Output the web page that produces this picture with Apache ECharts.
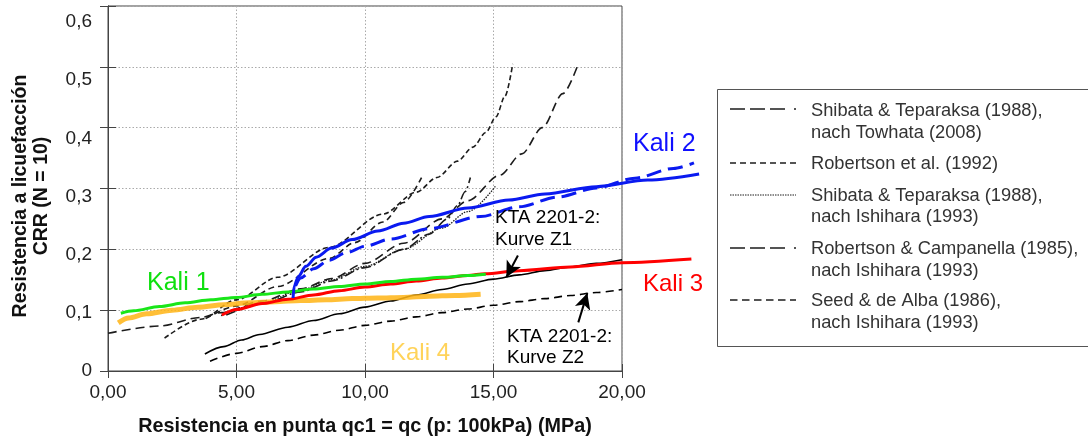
<!DOCTYPE html>
<html><head><meta charset="utf-8">
<script src="https://cdn.jsdelivr.net/npm/echarts@6/dist/echarts.min.js"></script>
<style>html,body{margin:0;padding:0;background:#fff}#c{width:1088px;height:442px}</style>
</head><body><div id="c"></div>
<script>
// ---- data (x = qc1 [MPa], y = CRR) ----
const xTicks = [0, 5, 10, 15, 20];
const yTicks = [0, 0.1, 0.2, 0.3, 0.4, 0.5, 0.6];

const kali1 = [[0.5,0.095],[1,0.099],[2,0.106],[3,0.112],[4,0.117],[5,0.121],[6,0.126],[7,0.13],[8,0.135],[9,0.139],[10,0.143],[11,0.147],[12,0.151],[13,0.154],[14,0.157],[14.7,0.159]];
const kali2Solid = [[7.2,0.12],[7.25,0.14],[7.4,0.155],[7.7,0.172],[8.1,0.187],[8.7,0.202],[9.5,0.216],[10.5,0.23],[11.5,0.243],[12.5,0.254],[14,0.268],[15.6,0.281],[17,0.291],[19,0.303],[21,0.314],[23,0.324]];
const kali2Dashed = [[7.3,0.14],[7.5,0.153],[8,0.168],[8.6,0.182],[9.3,0.195],[10,0.205],[11,0.217],[12.5,0.234],[14.5,0.254],[16,0.27],[17.5,0.286],[19,0.301],[20.5,0.317],[22,0.333],[22.8,0.342]];
const kali3 = [[4.43,0.092],[5,0.101],[6,0.111],[7,0.118],[8,0.125],[9,0.132],[10,0.138],[11,0.143],[12,0.148],[13,0.153],[14,0.157],[14.67,0.16],[16,0.165],[18,0.171],[20,0.178],[22.7,0.184]];
const kali4 = [[0.4,0.079],[0.8,0.087],[1.5,0.094],[2.5,0.1],[3.5,0.105],[4.5,0.109],[5.5,0.112],[6.5,0.114],[7.5,0.116],[8.5,0.117],[9.5,0.119],[10.5,0.12],[11.5,0.121],[12.5,0.123],[13.5,0.124],[14.5,0.126]];

const ktaZ1 = [[3.77,0.028],[4.5,0.04],[5.2,0.051],[5.9,0.06],[7,0.072],[8,0.083],[9,0.094],[10,0.105],[11,0.115],[12,0.125],[13,0.134],[14,0.143],[15,0.151],[16,0.158],[17,0.165],[18,0.171],[19,0.177],[20,0.183]];
const ktaZ2 = [[3.97,0.016],[5,0.029],[6,0.04],[7,0.05],[8,0.059],[9,0.067],[10,0.075],[11,0.082],[12,0.089],[13,0.096],[14,0.102],[15,0.108],[16,0.114],[17,0.119],[18,0.124],[19,0.129],[20,0.134]];
const shibataTowhata = [[4.6,0.092],[6,0.11],[7.5,0.13],[8.7,0.148],[10,0.17],[11.5,0.2],[12.5,0.225],[13.2,0.25],[13.6,0.272],[13.9,0.295],[14.1,0.318]];
const robertson1992 = [[2.2,0.054],[3.6,0.085],[5,0.117],[6.6,0.154],[8.6,0.203],[10.7,0.258],[12,0.294],[12.8,0.318],[13.6,0.345],[14.2,0.368],[14.7,0.392],[15.1,0.418],[15.45,0.452],[15.75,0.505]];
const shibataIshihara = [[4.4,0.091],[6,0.112],[7.5,0.133],[8.7,0.15],[10,0.172],[11.5,0.2],[13,0.235],[14,0.262],[15.1,0.305]];
const robertsonCampanella = [[0,0.062],[2,0.074],[3.6,0.088],[4.4,0.096],[6,0.115],[7.5,0.135],[8.7,0.152],[10,0.177],[11.5,0.21],[13,0.25],[14,0.28],[15.25,0.322],[16.1,0.357],[16.9,0.4],[17.7,0.456],[18.3,0.505]];
const seedDeAlba = [[3.8,0.086],[5,0.107],[6.6,0.139],[8.6,0.185],[9.6,0.211],[10.7,0.245],[11.5,0.277],[12.2,0.318]];

const arrowZ1 = [[15.95,0.19],[15.5,0.154]];
const arrowZ2 = [[18.3,0.08],[18.65,0.128]];

const legendNames = [
  ['Shibata & Teparaksa (1988),', 'nach Towhata (2008)'],
  ['Robertson et al. (1992)'],
  ['Shibata & Teparaksa (1988),', 'nach Ishihara (1993)'],
  ['Robertson & Campanella (1985),', 'nach Ishihara (1993)'],
  ['Seed & de Alba (1986),', 'nach Ishihara (1993)']
];

// ---- styling / rendering ----
const FONT = '"Liberation Sans", Arial, sans-serif';
const BLK = '#1c1c1c';
const chart = echarts.init(document.getElementById('c'), null, {renderer: 'canvas'});

function ser(name, data, color, width, type, z, extra) {
  return Object.assign({
    type: 'line', name, data, symbol: 'none', showSymbol: false,
    smooth: 0.3, smoothMonotone: 'x', clip: false, silent: true, z: z,
    lineStyle: {color, width, type}
  }, extra || {});
}
function arrowML(pts) {
  return {silent: true, symbol: ['none', 'arrow'], symbolSize: [12, 16],
    lineStyle: {color: '#000', width: 2, type: 'solid'}, label: {show: false},
    emphasis: {disabled: true},
    data: [[{coord: pts[0]}, {coord: pts[1]}]]};
}
// wide overlay grid (same scale) for the Kali curves that run past x = 20
const WIDE = {xAxisIndex: 2, yAxisIndex: 3};

const LSTY = {
  towhata: [10, 3, 2, 3],
  rob92: [5, 3],
  ishihara: [1.5, 1.2],
  robCamp: [9, 5],
  seed: [6, 4]
};

const series = [
  ser('Shibata & Teparaksa (1988), nach Towhata (2008)', shibataTowhata, BLK, 1.6, LSTY.towhata, 2),
  ser('Robertson et al. (1992)', robertson1992, BLK, 1.6, LSTY.rob92, 2),
  ser('Shibata & Teparaksa (1988), nach Ishihara (1993)', shibataIshihara, BLK, 1.3, LSTY.ishihara, 2),
  ser('Robertson & Campanella (1985), nach Ishihara (1993)', robertsonCampanella, BLK, 1.6, LSTY.robCamp, 2),
  ser('Seed & de Alba (1986), nach Ishihara (1993)', seedDeAlba, BLK, 1.6, LSTY.seed, 2),
  ser('KTA 2201-2: Kurve Z1', ktaZ1, '#000', 1.6, 'solid', 2, {markLine: arrowML(arrowZ1)}),
  ser('KTA 2201-2: Kurve Z2', ktaZ2, '#000', 1.6, [8, 5], 2, {markLine: arrowML(arrowZ2)}),
  ser('Kali 4', kali4, 'rgba(255,180,20,0.85)', 5, 'solid', 3),
  ser('Kali 3', kali3, '#ff0000', 3, 'solid', 4, WIDE),
  ser('Kali 1', kali1, '#19e619', 3, 'solid', 5),
  ser('Kali 2 dashed', kali2Dashed, '#0a1af0', 3, [15, 7], 6, WIDE),
  ser('Kali 2', kali2Solid, '#0a1af0', 3, 'solid', 6, WIDE)
];

const axisColor = '#444';
const yLabelFmt = v => {
  const r = Math.round(v * 10);
  if (Math.abs(v * 10 - r) > 1e-6 || yTicks.indexOf(r / 10) < 0) return '';
  return r === 0 ? '0' : '0,' + r;
};

const legendGraphics = [];
const legendLineY = [109, 163, 195, 248, 300];
const legendTextY = [[110.7, 132.7], [163.7], [195.7, 216.7], [248.7, 270.7], [300.7, 322.7]];
const legendDash = [[15,5,15,5,15,9,2,100], [6,4], [1.5,1], [15,5,15,5,15,9,2,100], [7.5,4.5]];
const legendLW = [1.3, 1.3, 1, 1.3, 1.3];
legendGraphics.push({type: 'rect', silent: true, z: 10, shape: {x: 717.5, y: 89.5, width: 400, height: 257},
  style: {fill: '#fff', stroke: '#555', lineWidth: 1}});
legendNames.forEach((lines, i) => {
  legendGraphics.push({type: 'line', silent: true, z: 11,
    shape: {x1: 730, y1: legendLineY[i], x2: 796, y2: legendLineY[i]},
    style: {stroke: BLK, lineWidth: legendLW[i], lineDash: legendDash[i]}});
  lines.forEach((t, j) => {
    legendGraphics.push({type: 'text', silent: true, z: 11, x: 811, y: legendTextY[i][j],
      style: {text: t, font: '18.3px ' + FONT, fill: '#333', verticalAlign: 'middle', align: 'left'}});
  });
});

function label(text, x, y, size, color) {
  return {type: 'text', silent: true, z: 12, x, y,
    style: {text, font: size + 'px ' + FONT, fill: color, verticalAlign: 'middle', align: 'left'}};
}
const textGraphics = [
  label('Kali 1', 147, 283, 25, '#0fe00f'),
  label('Kali 2', 633, 144, 25, '#1010ff'),
  label('Kali 3', 643, 284.6, 24, '#ff0000'),
  label('Kali 4', 390, 353.6, 24, '#ffd35a'),
  label('KTA 2201-2:', 495, 217.3, 19, '#000'),
  label('Kurve Z1', 495, 239.3, 19, '#000'),
  label('KTA 2201-2:', 507, 336.3, 19, '#000'),
  label('Kurve Z2', 507, 357.3, 19, '#000')
];

const option = {
  animation: false,
  backgroundColor: '#fff',
  grid: [
    {left: 108, right: 466, top: 6, bottom: 71, show: true, borderColor: axisColor, borderWidth: 1},
    {left: 108, right: 1088 - 108 - 24 * 25.7, top: 6, bottom: 71, show: false}
  ],
  xAxis: [
    {type: 'value', min: xTicks[0], max: xTicks[xTicks.length - 1], interval: 5, position: 'bottom',
      axisLine: {show: true, lineStyle: {color: axisColor, width: 1}},
      axisTick: {show: true, inside: true, length: 7, lineStyle: {color: axisColor}},
      axisLabel: {margin: 12, fontSize: 19, color: '#222', fontFamily: FONT,
        formatter: v => xTicks.indexOf(v) >= 0 ? v.toFixed(2).replace('.', ',') : ''},
      splitLine: {show: true, lineStyle: {color: '#aaa', type: [1.5, 2], width: 1}},
      name: 'Resistencia en punta qc1 = qc (p: 100kPa) (MPa)', nameLocation: 'middle', nameGap: 46,
      nameTextStyle: {fontWeight: 'bold', fontSize: 19.8, color: '#111', fontFamily: FONT}},
    {type: 'value', min: 0, max: 20, interval: 5, position: 'top',
      axisLine: {show: true, lineStyle: {color: axisColor, width: 1}},
      axisTick: {show: true, inside: true, length: 7, lineStyle: {color: axisColor}},
      axisLabel: {show: false}, splitLine: {show: false}},
    {type: 'value', gridIndex: 1, min: 0, max: 24, show: false}
  ],
  yAxis: [
    {type: 'value', min: 0, max: 0.6, interval: 0.1, position: 'left',
      axisLine: {show: true, lineStyle: {color: axisColor, width: 1}},
      axisTick: {show: true, inside: true, length: 8, lineStyle: {color: axisColor}},
      axisLabel: {show: false},
      splitLine: {show: true, lineStyle: {color: '#aaa', type: [1.5, 2], width: 1}},
      name: 'Resistencia a licuefacción\nCRR (N = 10)', nameLocation: 'middle', nameGap: 56,
      nameTextStyle: {fontWeight: 'bold', fontSize: 19.5, lineHeight: 21, color: '#111', fontFamily: FONT,
        padding: [0, 15, 0, 0]}},
    {type: 'value', min: 0, max: 0.6, interval: 0.1, position: 'right',
      axisLine: {show: true, lineStyle: {color: axisColor, width: 1}},
      axisTick: {show: true, inside: true, length: 8, lineStyle: {color: axisColor}},
      axisLabel: {show: false}, splitLine: {show: false}},
    {type: 'value', min: 0, max: 0.6275, interval: 0.1, position: 'left',
      axisLine: {show: false}, axisTick: {show: false}, splitLine: {show: false},
      axisLabel: {show: true, margin: 16, fontSize: 19, color: '#222', fontFamily: FONT, formatter: yLabelFmt}},
    {type: 'value', gridIndex: 1, min: 0, max: 0.6, show: false}
  ],
  series: series,
  graphic: legendGraphics.concat(textGraphics)
};
chart.setOption(option);
</script>
</body></html>
